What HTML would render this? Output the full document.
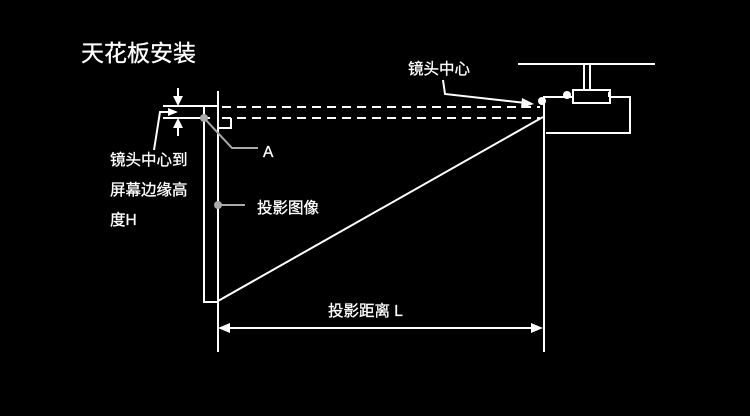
<!DOCTYPE html>
<html><head><meta charset="utf-8"><style>
html,body{margin:0;padding:0;background:#000;}
svg{display:block}
text{font-family:"Liberation Sans","Noto Sans CJK SC",sans-serif;fill:#fff;stroke:#fff;stroke-width:0.3;}
</style></head><body>
<svg width="750" height="416" viewBox="0 0 750 416" xmlns="http://www.w3.org/2000/svg">
<rect width="750" height="416" fill="#000"/>
<g stroke="#fff" stroke-width="2" fill="none">
<line x1="218" y1="91" x2="218" y2="352"/>
<polyline points="163,106 218,106"/>
<polyline points="163,118 210,118"/>
<polyline points="204,106 204,302 218,302"/>
<polyline points="218,128 231,128 231,118"/>
<line x1="222" y1="107" x2="540" y2="107" stroke-dasharray="9,6"/>
<line x1="222" y1="118" x2="540" y2="118" stroke-dasharray="9,6"/>
<line x1="218" y1="301" x2="543" y2="117"/>
<line x1="518" y1="64" x2="655" y2="64"/>
<line x1="584" y1="64" x2="584" y2="90"/>
<line x1="590" y1="64" x2="590" y2="90"/>
<rect x="573" y="90" width="37" height="13"/>
<polyline points="544,352 544,97 573,97"/>
<polyline points="610,97 630,97 630,133 546,133"/>
<line x1="609" y1="92" x2="609" y2="97"/>
<line x1="226" y1="328" x2="535" y2="328"/>
<line x1="178" y1="88" x2="178" y2="98"/>
<line x1="178" y1="126" x2="178" y2="136"/>
<polyline points="154,150 160,112 170,112"/>
<polyline points="443,80 445,94 526,103"/>
</g>
<g stroke="#aaa" stroke-width="2" fill="none">
<polyline points="204,118 232,148 258,148"/>
<line x1="218" y1="205" x2="245" y2="205"/>
</g>
<circle cx="204" cy="118" r="4" fill="#aaa"/>
<circle cx="218" cy="205" r="4" fill="#aaa"/>
<circle cx="542" cy="101" r="4" fill="#fff"/>
<circle cx="567" cy="95" r="4" fill="#fff"/>
<g fill="#fff">
<polygon points="218,328 230,323 230,333"/>
<polygon points="543,328 531,323 531,333"/>
<polygon points="178,106 173,96 183,96"/>
<polygon points="178,118 173,128 183,128"/>
<polygon points="178,112 168,108 168,116"/>
<polygon points="534,104 522,98 521,108"/>
</g>
<text x="81" y="61" font-size="23" stroke-width="0.4">天花板安装</text>
<text x="110" y="165" font-size="15.5">镜头中心到</text>
<text x="110" y="195" font-size="15.5">屏幕边缘高</text>
<text x="110" y="225" font-size="15.5">度H</text>
<text x="263" y="157" font-size="15.5">A</text>
<text x="257" y="213" font-size="15.5">投影图像</text>
<text x="408" y="74" font-size="15.5">镜头中心</text>
<text x="328" y="316" font-size="15.5">投影距离 L</text>
</svg>
</body></html>
